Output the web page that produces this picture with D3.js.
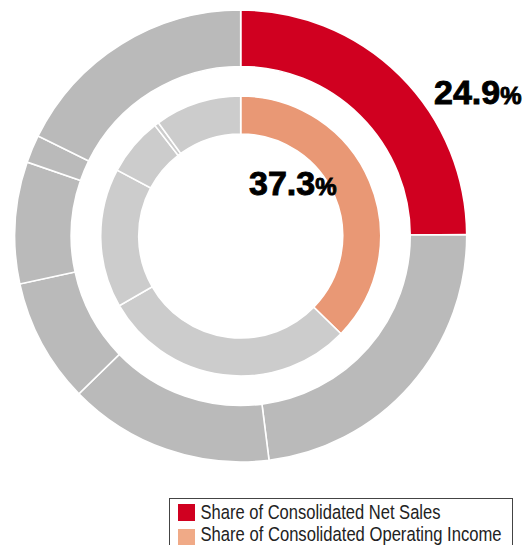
<!doctype html>
<html>
<head>
    <meta charset="utf-8">
    <title>Share of Consolidated Net Sales / Operating Income</title>
    <style>
        body {
            margin: 0;
            padding: 0;
            background: #fff;
        }
    </style>
</head>
<body>
    <svg id="chart" width="526" height="545"></svg>

    <script src="https://d3js.org/d3.v7.min.js"></script>
    <script>
        // outer ring: share of consolidated net sales (first slice highlighted)
        var netSales = [24.9, 23.1, 14.7, 8.9, 8.7, 2.0, 17.7];
        // inner ring: share of consolidated operating income
        var opIncome = [37.3, 29.4, 16.1, 6.7, 0.5, 10.0];
        var legendLabels = ["Share of Consolidated Net Sales", "Share of Consolidated Operating Income"];

        var cx = 240.7, cy = 236;

        var svg = d3.select("#chart");
        var g = svg.append("g")
            .attr("transform", "translate(" + cx + "," + cy + ")");

        var pie = d3.pie()
            .sort(null)
            .value(function(d) { return d; });

        var outerArc = d3.arc().innerRadius(169.5).outerRadius(226);
        var innerArc = d3.arc().innerRadius(102).outerRadius(140);

        g.selectAll(".outer")
            .data(pie(netSales))
            .enter().append("path")
            .attr("class", "outer")
            .attr("d", outerArc)
            .style("fill", function(d, i) { return i === 0 ? "#d00020" : "#bababa"; })
            .style("stroke", "#fff")
            .style("stroke-width", 1.6);

        g.selectAll(".inner")
            .data(pie(opIncome))
            .enter().append("path")
            .attr("class", "inner")
            .attr("d", innerArc)
            .style("fill", function(d, i) { return i === 0 ? "#e99875" : "#cccccc"; })
            .style("stroke", "#fff")
            .style("stroke-width", 1.6);

        // value labels (heavy weight, so a thin stroke thickens the glyphs)
        function bigLabel(x, y, value) {
            var t = svg.append("text")
                .attr("x", x)
                .attr("y", y)
                .style("font-family", "'Liberation Sans', Arial, sans-serif")
                .style("font-weight", "bold")
                .style("fill", "#000")
                .style("stroke", "#000")
                .style("stroke-width", 0.9);
            t.append("tspan")
                .style("font-size", "34px")
                .text(value.toFixed(1));
            t.append("tspan")
                .style("font-size", "24px")
                .text("%");
        }
        bigLabel(434, 104, netSales[0]);
        bigLabel(249, 195, opIncome[0]);

        // legend
        var legend = svg.append("g");
        legend.append("rect")
            .attr("x", 169.5)
            .attr("y", 498.5)
            .attr("width", 343)
            .attr("height", 70)
            .style("fill", "#fff")
            .style("stroke", "#444")
            .style("stroke-width", 1);

        var legendColors = ["#d00020", "#f0aa87"];
        var legendWidths = [240, 301];
        legendLabels.forEach(function(label, i) {
            legend.append("rect")
                .attr("x", 178)
                .attr("y", 504 + i * 25)
                .attr("width", 17)
                .attr("height", 17)
                .style("fill", legendColors[i]);
            legend.append("text")
                .attr("x", 200.5)
                .attr("y", 519 + i * 21.5)
                .attr("textLength", legendWidths[i])
                .attr("lengthAdjust", "spacingAndGlyphs")
                .style("font-family", "'Liberation Sans Narrow', 'Liberation Sans', Arial, sans-serif")
                .style("font-size", "20.5px")
                .style("fill", "#222")
                .text(label);
        });
    </script>
</body>
</html>
